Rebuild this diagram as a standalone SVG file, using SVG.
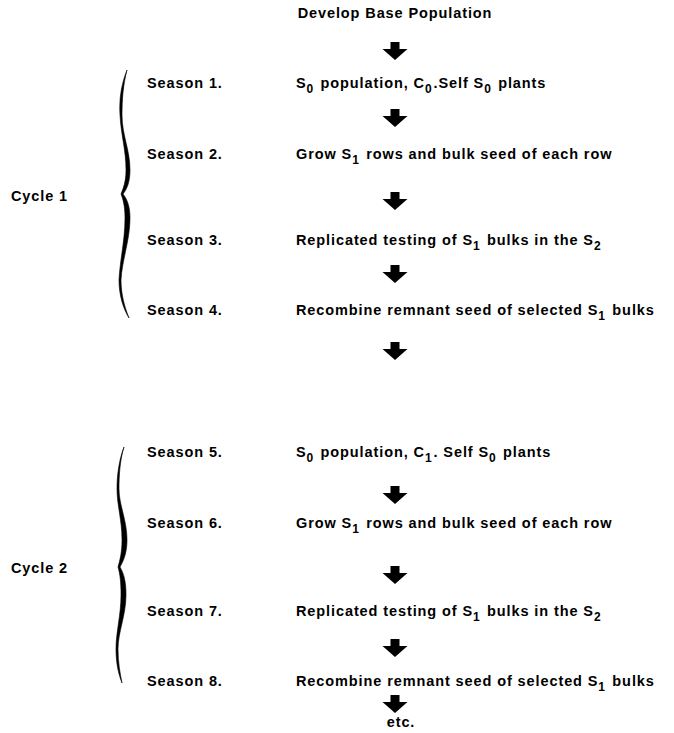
<svg xmlns="http://www.w3.org/2000/svg" width="674" height="733" viewBox="0 0 674 733">
<style>
text{font-family:"Liberation Sans",Arial,sans-serif;font-weight:bold;fill:#000;font-size:14.5px;letter-spacing:0.9px;}
.sub{font-size:12px;}
.arrow{fill:#000;}
.brace{fill:#000;stroke:#000;stroke-width:0.6;stroke-linejoin:round;}
</style>
<defs>
<path id="arr" class="arrow" d="M-4.5,0 h9 v7 h8 l-12.5,11 l-12.5,-11 h8 z"/>
</defs>
<g id="connectors">
<use href="#arr" x="395" y="42"/>
<use href="#arr" x="395" y="109"/>
<use href="#arr" x="395" y="192"/>
<use href="#arr" x="395" y="265"/>
<use href="#arr" x="395" y="342"/>
<use href="#arr" x="395" y="486"/>
<use href="#arr" x="395" y="566"/>
<use href="#arr" x="395" y="639"/>
<use href="#arr" x="395" y="695"/>
</g>
<g id="title"><text x="395" y="18" text-anchor="middle">Develop Base Population</text></g>
<g id="cycle1">
<text x="11" y="201">Cycle 1</text>
<path class="brace" d="M127,70 C121,85 119,100 120,115 C121,135 126,150 126,170 C126,182 123,189 121,194 C123,199 125,206 125,218 C125,240 120,260 119,280 C119,295 123,308 129,318 C125,308 121,295 121,280 C122,260 130,240 130,218 C130,206 127,199 123,194 C127,189 130,182 130,170 C130,150 122,135 122,115 C122,100 123,85 127,70 z"/>
</g>
<g id="cycle2">
<text x="11" y="573">Cycle 2</text>
<path class="brace" d="M124,447 C119,460 117,475 117,489 C117,505 122,520 122,540 C122,552 120,560 118,567 C120,574 121,582 121,595 C121,615 116,632 116,649 C116,662 118,673 122,683 C120,673 118,662 118,649 C118,632 126,615 126,595 C126,582 124,574 120,567 C124,560 127,552 127,540 C127,520 119,505 119,489 C119,475 120,460 124,447 z"/>
</g>
<g id="s1"><text x="147" y="88">Season 1.</text>
<text x="296" y="88">S<tspan class="sub" dy="5">0</tspan><tspan dy="-5" dx="1.5"> population, C</tspan><tspan class="sub" dy="5">0</tspan><tspan dy="-5" dx="1">.Self S</tspan><tspan class="sub" dy="5">0</tspan><tspan dy="-5" dx="1.5"> plants</tspan></text></g>
<g id="s2"><text x="147" y="159">Season 2.</text>
<text x="296" y="159">Grow S<tspan class="sub" dy="5">1</tspan><tspan dy="-5" dx="1.5"> rows and bulk seed of each row</tspan></text></g>
<g id="s3"><text x="147" y="245">Season 3.</text>
<text x="296" y="245">Replicated testing of S<tspan class="sub" dy="5">1</tspan><tspan dy="-5" dx="1.5"> bulks in the S</tspan><tspan class="sub" dy="5">2</tspan></text></g>
<g id="s4"><text x="147" y="315">Season 4.</text>
<text x="296" y="315">Recombine remnant seed of selected S<tspan class="sub" dy="5">1</tspan><tspan dy="-5" dx="1.5"> bulks</tspan></text></g>
<g id="s5"><text x="147" y="457">Season 5.</text>
<text x="296" y="457">S<tspan class="sub" dy="5">0</tspan><tspan dy="-5" dx="1.5"> population, C</tspan><tspan class="sub" dy="5">1</tspan><tspan dy="-5" dx="1">. Self S</tspan><tspan class="sub" dy="5">0</tspan><tspan dy="-5" dx="1.5"> plants</tspan></text></g>
<g id="s6"><text x="147" y="528">Season 6.</text>
<text x="296" y="528">Grow S<tspan class="sub" dy="5">1</tspan><tspan dy="-5" dx="1.5"> rows and bulk seed of each row</tspan></text></g>
<g id="s7"><text x="147" y="616">Season 7.</text>
<text x="296" y="616">Replicated testing of S<tspan class="sub" dy="5">1</tspan><tspan dy="-5" dx="1.5"> bulks in the S</tspan><tspan class="sub" dy="5">2</tspan></text></g>
<g id="s8"><text x="147" y="686">Season 8.</text>
<text x="296" y="686">Recombine remnant seed of selected S<tspan class="sub" dy="5">1</tspan><tspan dy="-5" dx="1.5"> bulks</tspan></text></g>
<g id="etc"><text x="401" y="727" text-anchor="middle">etc.</text></g>
</svg>
